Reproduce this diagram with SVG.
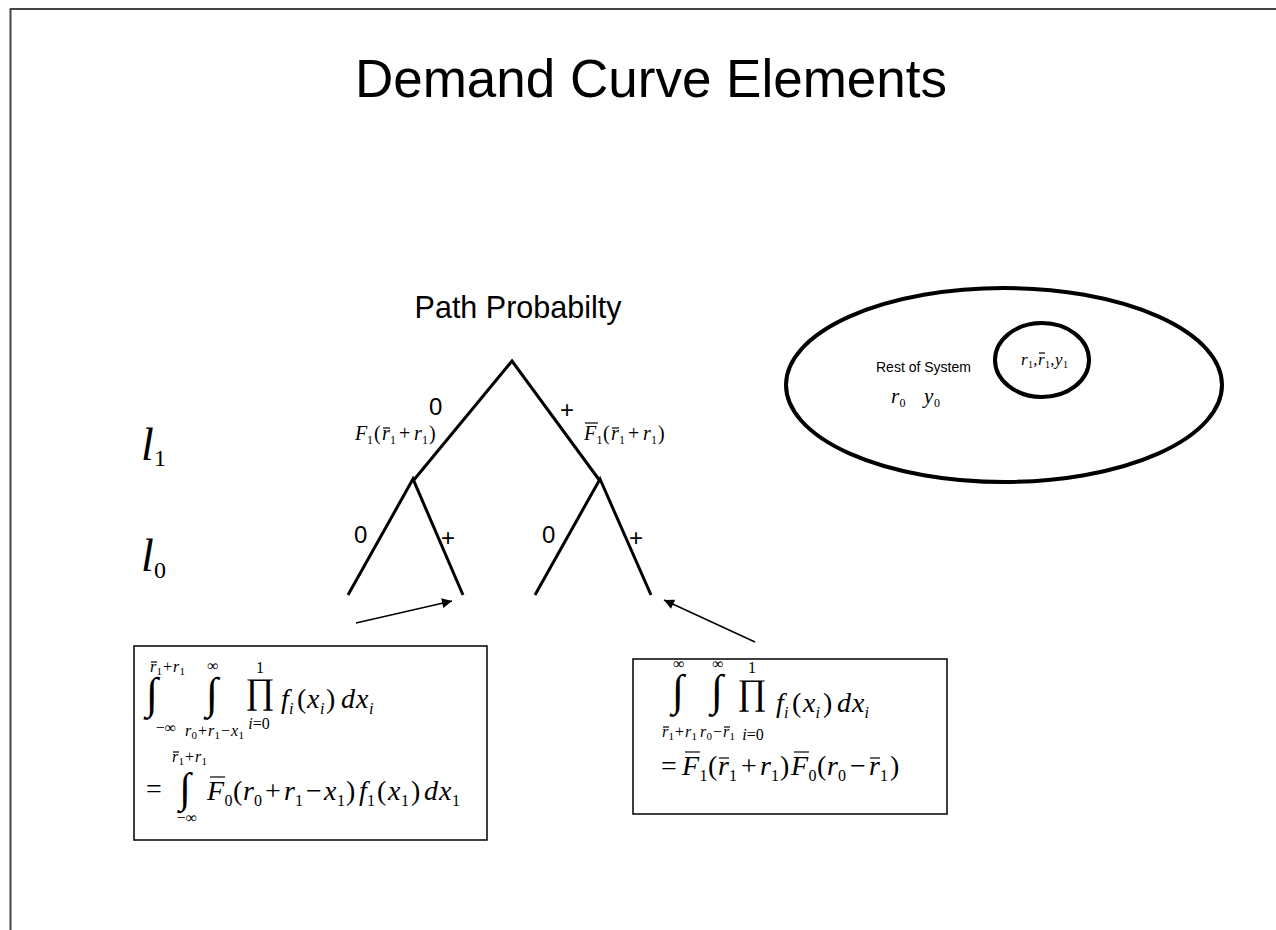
<svg xmlns="http://www.w3.org/2000/svg" width="1276" height="930" viewBox="0 0 1276 930">
<defs>
<style>
.sans{font-family:"Liberation Sans",Arial,sans-serif;fill:#000}
.m{font-family:"Liberation Serif","Times New Roman",serif;fill:#000}
.i{font-style:italic}
.tree{stroke:#000;stroke-width:3;fill:none;stroke-linecap:butt}
.bar{stroke:#000;stroke-width:1.2}
.box{fill:#fff;stroke:#000;stroke-width:1.5}
.arr{stroke:#000;stroke-width:1.5;fill:none}
</style>
<marker id="ah" viewBox="0 0 10 10" refX="10" refY="5" markerWidth="16" markerHeight="10" markerUnits="userSpaceOnUse" orient="auto">
<path d="M0,0 L10,5 L0,10 z" fill="#000"/>
</marker>
</defs>
<rect width="1276" height="930" fill="#fff"/>
<path d="M10.5,940 V9 H1290" fill="none" stroke="#444" stroke-width="2"/>

<text class="sans" x="651" y="97" font-size="53" text-anchor="middle">Demand Curve Elements</text>

<g id="tree-title"><text class="sans" x="518" y="318" font-size="30.5" text-anchor="middle">Path Probabilty</text></g>

<g id="level-labels" class="m">
<text x="141" y="460" font-size="46"><tspan class="i">l</tspan><tspan x="154" y="466" font-size="24">1</tspan></text>
<text x="141" y="571" font-size="46"><tspan class="i">l</tspan><tspan x="154" y="578" font-size="24">0</tspan></text>
</g>

<g id="connectors">
<path class="tree" d="M413,481 L512,361 L600,481"/>
<path class="tree" d="M348,595 L413,479 L463,595"/>
<path class="tree" d="M535,595 L600,479 L651,595"/>
<line class="arr" x1="356" y1="623" x2="452" y2="601" marker-end="url(#ah)"/>
<line class="arr" x1="755" y1="642" x2="664" y2="600" marker-end="url(#ah)"/>
</g>

<g id="branch-labels" class="sans" font-size="24">
<text x="429" y="415">0</text>
<text x="560" y="418">+</text>
<text x="354" y="543">0</text>
<text x="441" y="546">+</text>
<text x="542" y="543">0</text>
<text x="629" y="546">+</text>
</g>

<g id="prob-left" class="m" font-size="20">
<text x="355" y="440"><tspan class="i">F</tspan><tspan x="367" y="444" font-size="12">1</tspan><tspan x="374" y="440">(</tspan><tspan class="i" x="382">r</tspan><tspan x="390" y="444" font-size="12">1</tspan><tspan x="399" y="440">+</tspan><tspan class="i" x="414">r</tspan><tspan x="422" y="444" font-size="12">1</tspan><tspan x="429" y="440">)</tspan></text>
<line class="bar" x1="383" y1="428" x2="390" y2="428"/>
</g>

<g id="prob-right" class="m" font-size="20">
<text x="584" y="440"><tspan class="i">F</tspan><tspan x="596.5" y="444" font-size="12">1</tspan><tspan x="603" y="440">(</tspan><tspan class="i" x="611">r</tspan><tspan x="619" y="444" font-size="12">1</tspan><tspan x="628" y="440">+</tspan><tspan class="i" x="643">r</tspan><tspan x="651" y="444" font-size="12">1</tspan><tspan x="658" y="440">)</tspan></text>
<line class="bar" x1="585" y1="423" x2="598" y2="423"/>
<line class="bar" x1="612" y1="428" x2="619" y2="428"/>
</g>

<g id="system">
<ellipse cx="1004" cy="385" rx="218" ry="97" fill="none" stroke="#000" stroke-width="4"/>
<text class="sans" x="876" y="372" font-size="14">Rest of System</text>
<text class="m" x="891" y="403" font-size="21"><tspan class="i">r</tspan><tspan x="899.5" y="407" font-size="12">0</tspan><tspan class="i" x="924" y="403">y</tspan><tspan x="934" y="407" font-size="12">0</tspan></text>
</g>

<g id="subsystem">
<ellipse cx="1042" cy="360" rx="47" ry="37" fill="none" stroke="#000" stroke-width="4"/>
<text class="m" x="1021" y="365" font-size="17"><tspan class="i">r</tspan><tspan x="1028" y="368" font-size="10">1</tspan><tspan x="1033.2" y="365">,</tspan><tspan class="i" x="1038">r</tspan><tspan x="1045" y="368" font-size="10">1</tspan><tspan x="1050.2" y="365">,</tspan><tspan class="i" x="1055">y</tspan><tspan x="1063" y="368" font-size="10">1</tspan></text>
<line class="bar" x1="1039" y1="353" x2="1045" y2="353"/>
</g>

<g id="formula-left">
<rect class="box" x="134" y="646" width="353" height="194"/>
<g class="m">
<!-- row 1 -->
<text x="152" y="708" font-size="44" text-anchor="middle">∫</text>
<text x="150" y="672" font-size="16"><tspan class="i">r</tspan><tspan x="156.5" y="675" font-size="11">1</tspan><tspan x="163" y="672">+</tspan><tspan class="i" x="173">r</tspan><tspan x="179.5" y="675" font-size="11">1</tspan></text>
<text x="166" y="733" font-size="16" text-anchor="middle">−∞</text>
<line class="bar" x1="151" y1="662" x2="157" y2="662"/>
<text x="212" y="708" font-size="44" text-anchor="middle">∫</text>
<text x="213" y="671" font-size="16" text-anchor="middle">∞</text>
<text x="185" y="736" font-size="16"><tspan class="i">r</tspan><tspan x="191.5" y="739" font-size="11">0</tspan><tspan x="198" y="736">+</tspan><tspan class="i" x="208">r</tspan><tspan x="214.5" y="739" font-size="11">1</tspan><tspan x="221" y="736">−</tspan><tspan class="i" x="231">x</tspan><tspan x="238.5" y="739" font-size="11">1</tspan></text>
<text x="260" y="703" font-size="36" text-anchor="middle">∏</text>
<text x="260" y="673" font-size="16" text-anchor="middle">1</text>
<text x="259" y="729" font-size="16" text-anchor="middle"><tspan font-style="italic">i</tspan>=0</text>
<text x="281" y="708" font-size="28"><tspan class="i">f</tspan><tspan class="i" x="289" y="714" font-size="16">i</tspan><tspan x="297" y="708">(</tspan><tspan class="i" x="307">x</tspan><tspan class="i" x="320" y="714" font-size="16">i</tspan><tspan x="326" y="708">)</tspan><tspan class="i" x="341">d</tspan><tspan class="i" x="356">x</tspan><tspan class="i" x="369" y="714" font-size="16">i</tspan></text>
<!-- row 2 -->
<text x="146" y="798" font-size="28">=</text>
<text x="185" y="802" font-size="42" text-anchor="middle">∫</text>
<text x="172" y="762" font-size="16"><tspan class="i">r</tspan><tspan x="178.5" y="765" font-size="11">1</tspan><tspan x="185" y="762">+</tspan><tspan class="i" x="195">r</tspan><tspan x="201.5" y="765" font-size="11">1</tspan></text>
<text x="187" y="823" font-size="16" text-anchor="middle">−∞</text>
<line class="bar" x1="173" y1="752" x2="179" y2="752"/>
<text x="207" y="800" font-size="28"><tspan class="i">F</tspan><tspan x="224.5" y="806" font-size="16">0</tspan><tspan x="233" y="800">(</tspan><tspan class="i" x="243">r</tspan><tspan x="254" y="806" font-size="16">0</tspan><tspan x="265" y="800">+</tspan><tspan class="i" x="284">r</tspan><tspan x="295" y="806" font-size="16">1</tspan><tspan x="306" y="800">−</tspan><tspan class="i" x="324">x</tspan><tspan x="337" y="806" font-size="16">1</tspan><tspan x="346" y="800">)</tspan><tspan class="i" x="359">f</tspan><tspan x="367" y="806" font-size="16">1</tspan><tspan x="377" y="800">(</tspan><tspan class="i" x="388">x</tspan><tspan x="401" y="806" font-size="16">1</tspan><tspan x="411" y="800">)</tspan><tspan class="i" x="424">d</tspan><tspan class="i" x="439">x</tspan><tspan x="452" y="806" font-size="16">1</tspan></text>
<line class="bar" x1="210" y1="777" x2="225" y2="777" stroke-width="1.5"/>
</g>
</g>

<g id="formula-right">
<rect class="box" x="633" y="659" width="314" height="155"/>
<g class="m">
<!-- row 1 -->
<text x="678" y="705" font-size="44" text-anchor="middle">∫</text>
<text x="717" y="705" font-size="44" text-anchor="middle">∫</text>
<text x="679" y="669" font-size="16" text-anchor="middle">∞</text>
<text x="718" y="669" font-size="16" text-anchor="middle">∞</text>
<text x="662" y="737" font-size="16"><tspan class="i">r</tspan><tspan x="668.5" y="740" font-size="11">1</tspan><tspan x="675" y="737">+</tspan><tspan class="i" x="685">r</tspan><tspan x="691.5" y="740" font-size="11">1</tspan></text>
<text x="700" y="737" font-size="16"><tspan class="i">r</tspan><tspan x="706.5" y="740" font-size="11">0</tspan><tspan x="713" y="737">−</tspan><tspan class="i" x="723">r</tspan><tspan x="729.5" y="740" font-size="11">1</tspan></text>
<line class="bar" x1="663" y1="727" x2="669" y2="727"/>
<line class="bar" x1="724" y1="727" x2="730" y2="727"/>
<text x="752" y="704" font-size="36" text-anchor="middle">∏</text>
<text x="752" y="673" font-size="16" text-anchor="middle">1</text>
<text x="753" y="740" font-size="16" text-anchor="middle"><tspan font-style="italic">i</tspan>=0</text>
<text x="776" y="712" font-size="28"><tspan class="i">f</tspan><tspan class="i" x="784" y="718" font-size="16">i</tspan><tspan x="792" y="712">(</tspan><tspan class="i" x="803">x</tspan><tspan class="i" x="815.5" y="718" font-size="16">i</tspan><tspan x="823" y="712">)</tspan><tspan class="i" x="837">d</tspan><tspan class="i" x="852">x</tspan><tspan class="i" x="864.5" y="718" font-size="16">i</tspan></text>
<!-- row 2 -->
<text x="661" y="775" font-size="28">=<tspan class="i" x="682">F</tspan><tspan x="699.5" y="781" font-size="16">1</tspan><tspan x="708" y="775">(</tspan><tspan class="i" x="718">r</tspan><tspan x="729" y="781" font-size="16">1</tspan><tspan x="741" y="775">+</tspan><tspan class="i" x="760">r</tspan><tspan x="771" y="781" font-size="16">1</tspan><tspan x="780" y="775">)</tspan><tspan class="i" x="791">F</tspan><tspan x="808.5" y="781" font-size="16">0</tspan><tspan x="817" y="775">(</tspan><tspan class="i" x="827">r</tspan><tspan x="838" y="781" font-size="16">0</tspan><tspan x="850" y="775">−</tspan><tspan class="i" x="869">r</tspan><tspan x="880" y="781" font-size="16">1</tspan><tspan x="890" y="775">)</tspan></text>
<line class="bar" x1="685" y1="752" x2="700" y2="752" stroke-width="1.5"/>
<line class="bar" x1="719" y1="758" x2="729" y2="758" stroke-width="1.5"/>
<line class="bar" x1="794" y1="752" x2="809" y2="752" stroke-width="1.5"/>
<line class="bar" x1="870" y1="758" x2="880" y2="758" stroke-width="1.5"/>
</g>
</g>
</svg>
